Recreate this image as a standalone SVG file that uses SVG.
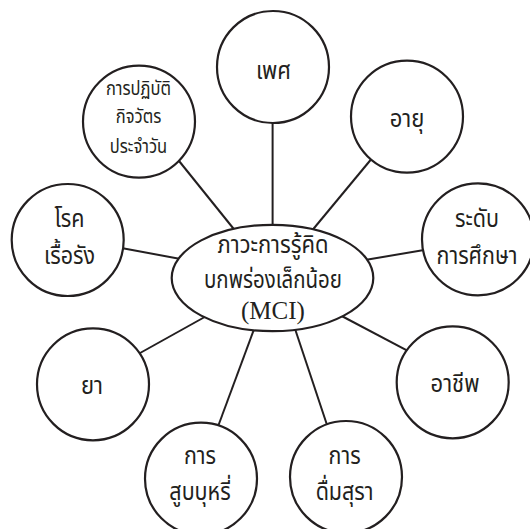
<svg xmlns="http://www.w3.org/2000/svg" width="530" height="529" viewBox="0 0 530 529">
<style>
.bg{fill:#ffffff}
.node{fill:#ffffff;stroke:#231f20;stroke-width:2.2}
.conn line{stroke:#231f20;stroke-width:2}
text{font-family:"Noto Sans Thai","Noto Sans","DejaVu Sans",sans-serif;fill:#231f20;text-anchor:middle;font-size:25px}
.small{font-size:19px}
.serif{font-family:"Liberation Serif",serif;font-size:25px}
</style>
<rect class="bg" x="0" y="0" width="530" height="529"/>
<g id="connectors" class="conn">
<line x1="272.6" y1="115" x2="272.6" y2="235"/>
<line x1="171" y1="151" x2="237" y2="233"/>
<line x1="378" y1="151" x2="310" y2="233"/>
<line x1="430" y1="249" x2="365" y2="260"/>
<line x1="116" y1="247" x2="186" y2="260"/>
<line x1="132" y1="357.5" x2="211" y2="313.5"/>
<line x1="413" y1="353.7" x2="336" y2="313"/>
<line x1="216.7" y1="430" x2="256.5" y2="322.5"/>
<line x1="328.7" y1="430" x2="292.9" y2="322.5"/>
</g>
<g id="mci">
<ellipse class="node" cx="272.5" cy="278" rx="100.8" ry="53.2"/>
<text transform="translate(273,252.5) scale(0.88,1)">ภาวะการรู้คิด</text>
<text transform="translate(273,287.5) scale(0.82,1)">บกพร่องเล็กน้อย</text>
<text class="serif" x="273" y="319">(MCI)</text>
</g>
<g id="sex">
<circle class="node" cx="273" cy="67" r="56"/>
<text transform="translate(273.6,79) scale(0.88,1)">เพศ</text>
</g>
<g id="adl">
<circle class="node" cx="139" cy="121.6" r="56"/>
<text class="small" transform="translate(138.5,94.6) scale(0.87,1)">การปฏิบัติ</text>
<text class="small" transform="translate(138.5,123.3) scale(0.87,1)">กิจวัตร</text>
<text class="small" transform="translate(138.5,152.7) scale(0.87,1)">ประจำวัน</text>
</g>
<g id="age">
<circle class="node" cx="407" cy="116.6" r="56"/>
<text transform="translate(407,127) scale(0.88,1)">อายุ</text>
</g>
<g id="education">
<circle class="node" cx="478" cy="239.4" r="56"/>
<text transform="translate(477,227) scale(0.86,1)">ระดับ</text>
<text transform="translate(477,263.5) scale(0.86,1)">การศึกษา</text>
</g>
<g id="chronic">
<circle class="node" cx="67.7" cy="240" r="56"/>
<text transform="translate(69.5,227) scale(0.86,1)">โรค</text>
<text transform="translate(69.5,263.5) scale(0.86,1)">เรื้อรัง</text>
</g>
<g id="medicine">
<circle class="node" cx="93" cy="384.3" r="56"/>
<text transform="translate(92,393.6) scale(0.88,1)">ยา</text>
</g>
<g id="occupation">
<circle class="node" cx="452.7" cy="382.3" r="56"/>
<text transform="translate(455,392) scale(0.88,1)">อาชีพ</text>
</g>
<g id="smoking">
<circle class="node" cx="201" cy="478.7" r="56"/>
<text transform="translate(200,463.5) scale(0.86,1)">การ</text>
<text transform="translate(200,500) scale(0.86,1)">สูบบุหรี่</text>
</g>
<g id="drinking">
<circle class="node" cx="346" cy="477" r="56"/>
<text transform="translate(344.6,463.5) scale(0.86,1)">การ</text>
<text transform="translate(344.6,500) scale(0.86,1)">ดื่มสุรา</text>
</g>
</svg>
